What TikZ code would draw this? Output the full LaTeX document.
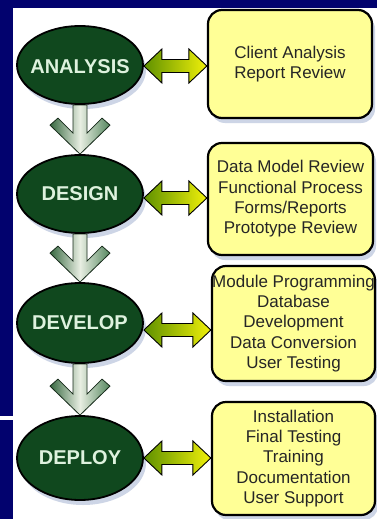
\documentclass[tikz,border=0pt]{standalone}
\usepackage{fontspec}
\setmainfont{Liberation Sans}
\usetikzlibrary{shapes.geometric,calc,shadows}
\definecolor{navy}{RGB}{2,2,110}
\definecolor{stagegreen}{RGB}{16,72,30}
\definecolor{stagetext}{RGB}{222,242,222}
\definecolor{boxyellow}{RGB}{255,255,150}
\definecolor{shadowc}{RGB}{205,213,230}
\definecolor{arrgreen}{RGB}{95,145,0}
\definecolor{arryellow}{RGB}{240,240,10}
\definecolor{darrdark}{RGB}{55,105,65}
\definecolor{darrlight}{RGB}{232,238,226}
\definecolor{darrmid}{RGB}{85,135,95}
\pgfdeclarelayer{back}
\pgfdeclarelayer{mid}
\pgfsetlayers{back,mid,main}
\tikzset{
 stage/.style={ellipse, draw=black, line width=1.8pt, fill=stagegreen, minimum width=126pt, inner sep=0pt},
 stagetxt/.style={text=stagetext, font=\fontsize{20}{22}\selectfont\bfseries, inner sep=0pt},
 infobox/.style={rectangle, rounded corners=14pt, draw=black, line width=2.2pt, fill=boxyellow, align=center, inner sep=0pt, text=black!85, font=\fontsize{17}{20.3}\selectfont, drop shadow={shadow xshift=3pt, shadow yshift=-5pt, fill=shadowc, opacity=1}},
 flowarrow/.style={draw=black!60!darrdark, line width=0.8pt, left color=darrdark, right color=darrmid, middle color=darrlight},
 linkarrow/.style={draw=black, line width=0.9pt, left color=arrgreen, right color=arryellow},
}
\newcommand\flowarr[2]{\draw[flowarrow] ($(#1)+(-7,0)$) -- ($(#2)+(-7,-21)$) -- ($(#2)+(-22,-36)$) -- ($(#2)+(-30,-29)$) -- (#2) -- ($(#2)+(30,-29)$) -- ($(#2)+(22,-36)$) -- ($(#2)+(7,-21)$) -- ($(#1)+(7,0)$) -- cycle;}
\newcommand\linkarr[2]{\draw[linkarrow] (#1) -- ($(#1)+(18,-17)$) -- ($(#1)+(18,-6.5)$) -- ($(#2)+(-18,-6.5)$) -- ($(#2)+(-18,-17)$) -- (#2) -- ($(#2)+(-18,17)$) -- ($(#2)+(-18,6.5)$) -- ($(#1)+(18,6.5)$) -- ($(#1)+(18,17)$) -- cycle;}
\begin{document}
\begin{tikzpicture}[x=1pt,y=-1pt]
\useasboundingbox (0,0) rectangle (377,519);
% stages
\node[stage, minimum height=78pt] (an) at (80,65) {};
\node[stagetxt] (ant) at ($(an)+(0,2)$) {ANALYSIS};
\node[stage, minimum height=78pt] (ds) at (80,194) {};
\node[stagetxt] (dst) at (ds) {DESIGN};
\node[stage, minimum height=80pt] (dv) at (80,323) {};
\node[stagetxt] (dvt) at (dv) {DEVELOP};
\node[stage, minimum height=84pt] (dp) at (80,458) {};
\node[stagetxt] (dpt) at (dp) {DEPLOY};
% background
\begin{pgfonlayer}{back}
\fill[navy] (0,0) rectangle (377,519);
\fill[white] (13,8) rectangle (377,519);
\fill[white] (0,416) rectangle (13,420);
\foreach \n/\r in {an/39,ds/39,dv/40,dp/42}{
 \fill[shadowc] ($(\n)+(3,5)$) ellipse [x radius=63, y radius=\r];
}
\end{pgfonlayer}
% flow arrows
\begin{pgfonlayer}{mid}
\flowarr{an.south}{ds.north}
\flowarr{ds.south}{dv.north}
\flowarr{dv.south}{dp.north}
\end{pgfonlayer}
% info boxes
\node[infobox, minimum width=164pt, minimum height=108pt] (b1) at (290,64) {Client Analysis\\Report Review};
\node[infobox, minimum width=165pt, minimum height=112pt] (b2) at (290.5,199) {Data Model Review\\Functional Process\\Forms/Reports\\Prototype Review};
\node[infobox, minimum width=163pt, minimum height=115pt] (b3) at (293.5,323.5) {Module Programming\\Database\\Development\\Data Conversion\\User Testing};
\node[infobox, minimum width=163pt, minimum height=113pt] (b4) at (293.5,458.5) {Installation\\Final Testing\\Training\\Documentation\\User Support};
% link arrows
\coordinate (l1) at (an.east |- 0,66);
\coordinate (r1) at (b1.west |- 0,66);
\coordinate (l2) at (ds.east |- 0,198);
\coordinate (r2) at (b2.west |- 0,198);
\coordinate (l3) at (dv.east |- 0,330);
\coordinate (r3) at (b3.west |- 0,330);
\coordinate (l4) at (dp.east |- 0,458);
\coordinate (r4) at (b4.west |- 0,458);
\linkarr{l1}{r1}
\linkarr{l2}{r2}
\linkarr{l3}{r3}
\linkarr{l4}{r4}
\end{tikzpicture}
\end{document}
